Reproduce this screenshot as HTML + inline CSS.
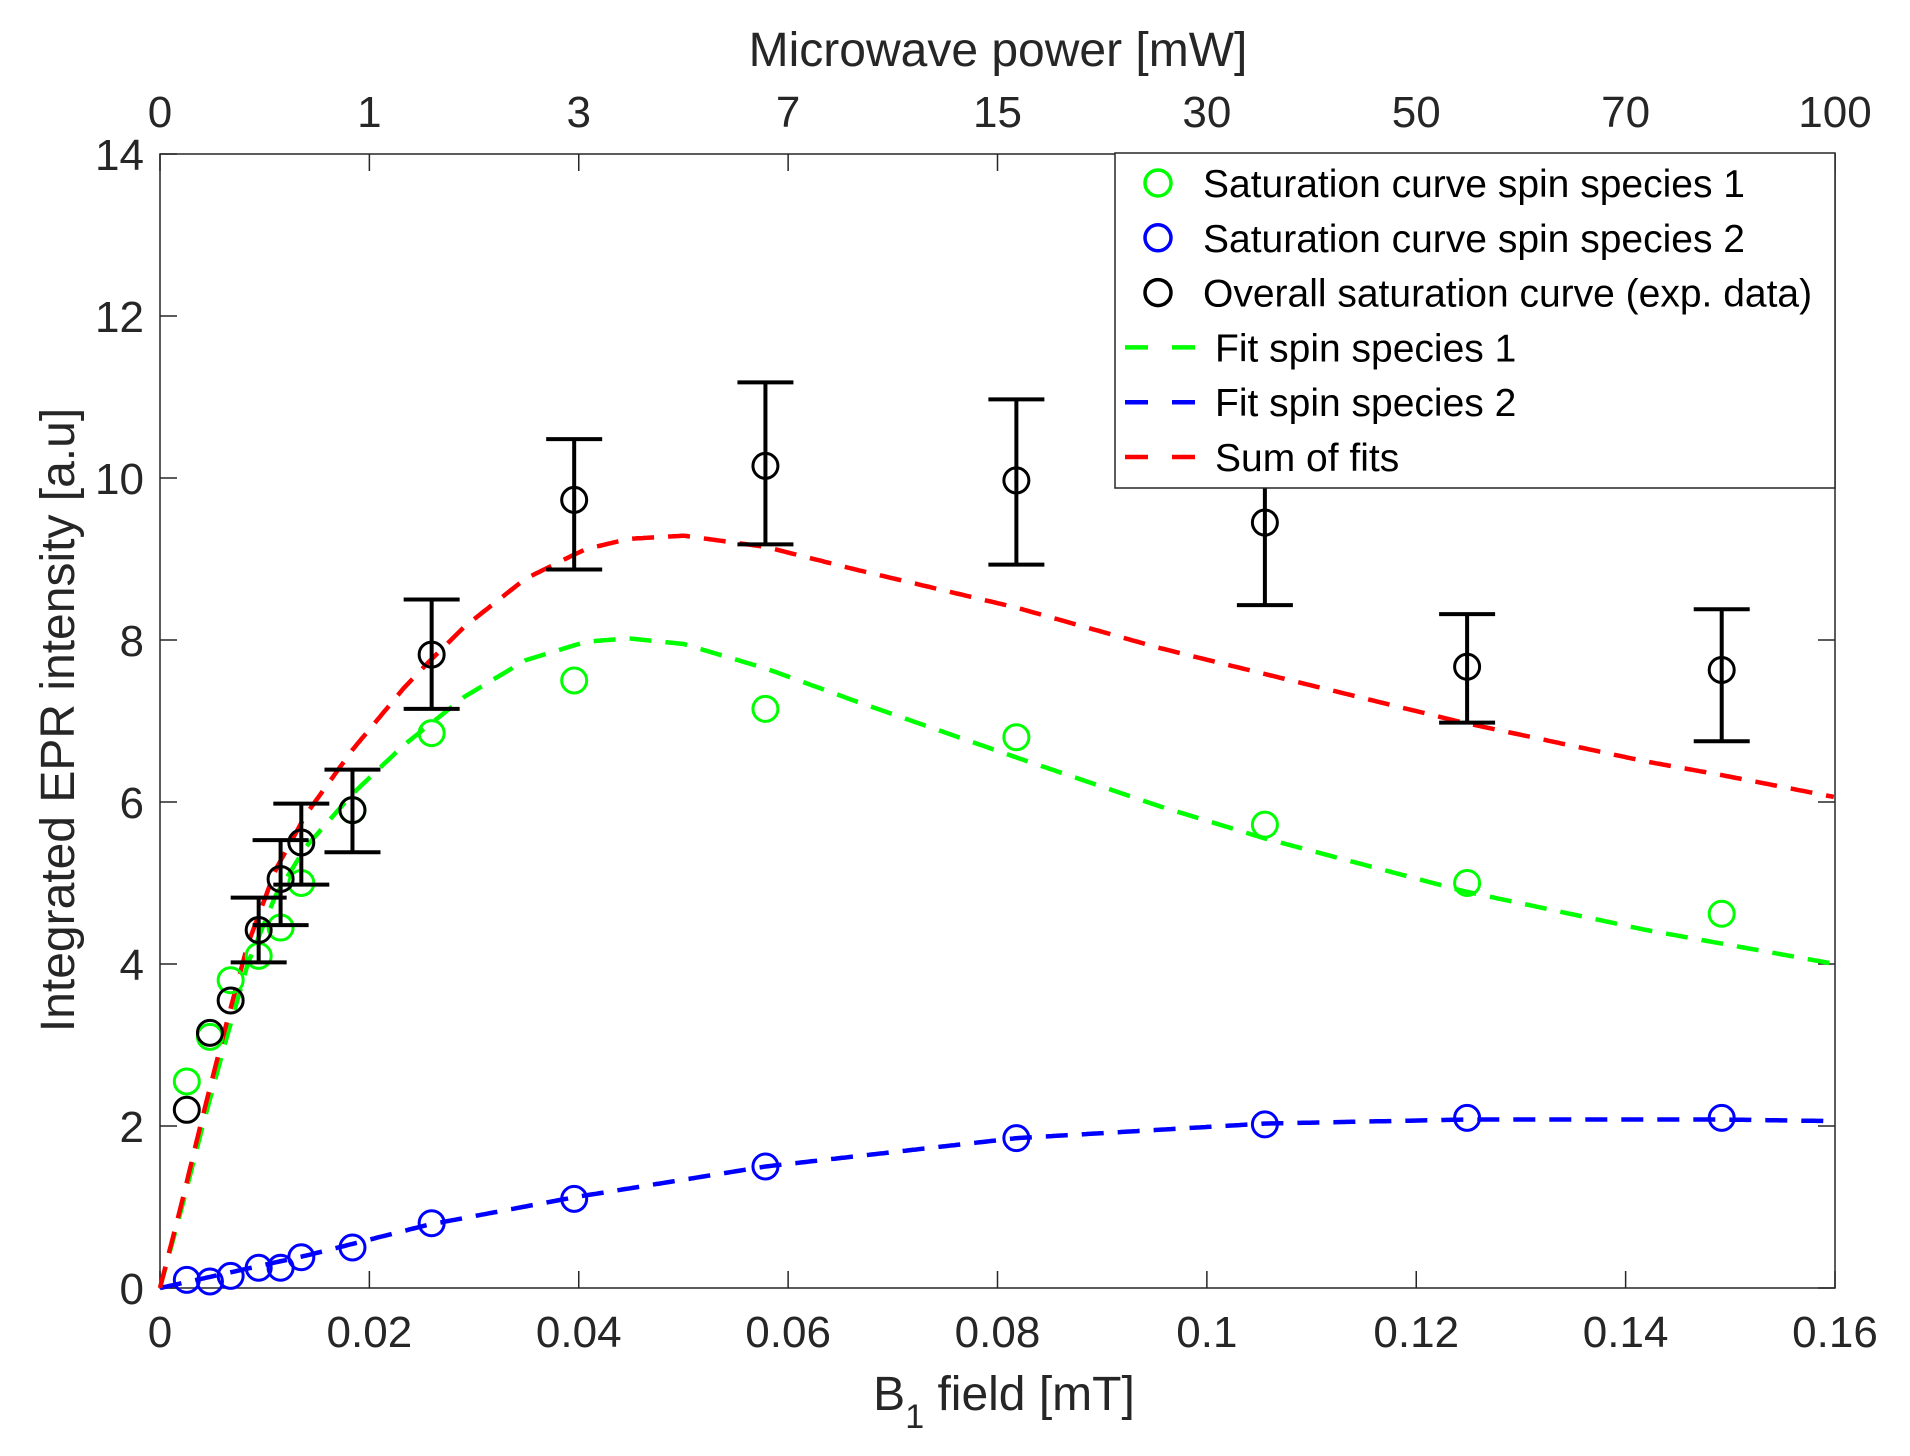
<!DOCTYPE html>
<html><head><meta charset="utf-8"><style>
html,body{margin:0;padding:0;background:#fff;width:1910px;height:1456px;overflow:hidden}
svg text{font-family:"Liberation Sans",Arial,sans-serif;fill:#262626}
</style></head><body>
<svg id="s" width="1910" height="1456" xmlns="http://www.w3.org/2000/svg"></svg>
<script>
(function(){
const s=document.getElementById('s');
const NS='http://www.w3.org/2000/svg';
function el(t,a,txt,parent){const e=document.createElementNS(NS,t);for(const k in a)e.setAttribute(k,a[k]);if(txt!==undefined)e.textContent=txt;(parent||s).appendChild(e);return e;}
const L=160,R=1835,T=154,B=1288;
const X=xd=>L+(xd-130)*(R-L)/1375;
const Y=v=>B-v*(B-T)/14;
el('rect',{x:L,y:T,width:R-L,height:B-T,fill:'none',stroke:'#262626','stroke-width':1.5});
const topL=['0','1','3','7','15','30','50','70','100'];
const botL=['0','0.02','0.04','0.06','0.08','0.1','0.12','0.14','0.16'];
for(let i=0;i<=8;i++){const x=L+i*(R-L)/8;
 el('line',{x1:x,y1:B,x2:x,y2:B-17,stroke:'#262626','stroke-width':1.5});
 el('line',{x1:x,y1:T,x2:x,y2:T+17,stroke:'#262626','stroke-width':1.5});
 el('text',{x:x,y:1347,'font-size':44,'text-anchor':'middle'},botL[i]);
 el('text',{x:x,y:127,'font-size':44,'text-anchor':'middle'},topL[i]);
}
for(let v=0;v<=14;v+=2){const y=Y(v);
 el('line',{x1:L,y1:y,x2:L+17,y2:y,stroke:'#262626','stroke-width':1.5});
 el('line',{x1:R,y1:y,x2:R-17,y2:y,stroke:'#262626','stroke-width':1.5});
 el('text',{x:144,y:y+16,'font-size':44,'text-anchor':'end'},String(v));
}
el('text',{x:998,y:66,'font-size':48,'text-anchor':'middle'},'Microwave power [mW]');
const t=el('text',{x:1004,y:1410,'font-size':48,'text-anchor':'middle'});
el('tspan',{},'B',t);el('tspan',{dy:18,'font-size':34},'1',t);el('tspan',{dy:-18},' field [mT]',t);
el('text',{x:0,y:0,'font-size':48,'text-anchor':'middle',transform:'translate(74,720) rotate(-90)'},'Integrated EPR intensity [a.u]');
const gf=[[130,0],[148,1],[165,2],[183,3],[202,4],[225,4.85],[250,5.45],[288,6.1],[330,6.7],[380,7.3],[430,7.75],[480,7.98],[515,8.02],[560,7.95],[627,7.65],[700,7.25],[833,6.55],[950,5.95],[1037,5.55],[1200,4.9],[1350,4.42],[1505,4.0]];
const bf=[[130,0],[250,0.4],[350,0.78],[470,1.12],[627,1.5],[833,1.85],[1037,2.03],[1203,2.08],[1412,2.08],[1505,2.06]];
function interp(a,x){for(let i=0;i<a.length-1;i++){if(x<=a[i+1][0]){const f=(x-a[i][0])/(a[i+1][0]-a[i][0]);return a[i][1]+f*(a[i+1][1]-a[i][1]);}}return a[a.length-1][1];}
function path(fn){let d='';for(let xd=130;xd<=1505;xd+=2){d+=(xd==130?'M':'L')+X(xd).toFixed(1)+','+Y(fn(xd)).toFixed(1);}return d;}
function dash(d,c){return {d:d,stroke:c,'stroke-dasharray':'22 14','stroke-width':4.5,fill:'none'};}
el('path',dash(path(x=>interp(gf,x)),'#00ff00'));
el('path',dash(path(x=>interp(bf,x)),'#0000ff'));
el('path',dash(path(x=>interp(gf,x)+interp(bf,x)),'#ff0000'));
const xs=[152,171,188,211,229,246,288,353,470,627,833,1037,1203,1412];
const g=[2.55,3.1,3.8,4.1,4.45,5.0,5.9,6.85,7.5,7.15,6.8,5.72,5.0,4.62];
const b=[0.1,0.08,0.15,0.25,0.25,0.38,0.5,0.8,1.1,1.5,1.85,2.02,2.1,2.1];
const k=[2.2,3.15,3.55,4.42,5.05,5.5,5.9,7.82,9.73,10.15,9.97,9.45,7.67,7.63];
const eb={211:[4.02,4.82],229:[4.48,5.53],246:[4.98,5.98],288:[5.38,6.4],353:[7.15,8.5],470:[8.87,10.48],627:[9.18,11.18],833:[8.93,10.97],1037:[8.43,10.47],1203:[6.98,8.32],1412:[6.75,8.38]};
xs.forEach((xd,i)=>{el('circle',{cx:X(xd),cy:Y(g[i]),r:12.5,fill:'none',stroke:'#00ff00','stroke-width':3});});
xs.forEach((xd,i)=>{el('circle',{cx:X(xd),cy:Y(b[i]),r:12.5,fill:'none',stroke:'#0000ff','stroke-width':3});});
xs.forEach((xd,i)=>{const x=X(xd);el('circle',{cx:x,cy:Y(k[i]),r:12.5,fill:'none',stroke:'#000','stroke-width':3});
 const e=eb[xd];if(e){const y1=Y(e[0]),y2=Y(e[1]);
  el('line',{x1:x,y1:y1,x2:x,y2:y2,stroke:'#000','stroke-width':4});
  el('line',{x1:x-28,y1:y1,x2:x+28,y2:y1,stroke:'#000','stroke-width':4});
  el('line',{x1:x-28,y1:y2,x2:x+28,y2:y2,stroke:'#000','stroke-width':4});}
});
el('rect',{x:1115,y:153,width:R-1115,height:335,fill:'#fff',stroke:'#262626','stroke-width':1.5});
const rows=[['c','#00ff00','Saturation curve spin species 1'],['c','#0000ff','Saturation curve spin species 2'],['c','#000','Overall saturation curve (exp. data)'],['l','#00ff00','Fit spin species 1'],['l','#0000ff','Fit spin species 2'],['l','#ff0000','Sum of fits']];
rows.forEach((r,i)=>{const y=183+i*54.8;
 if(r[0]=='c'){el('circle',{cx:1158,cy:y,r:13,fill:'none',stroke:r[1],'stroke-width':3.5});
  el('text',{x:1203,y:y+14,'font-size':39,style:'fill:#000'},r[2]);}
 else{el('line',{x1:1125,y1:y,x2:1148,y2:y,stroke:r[1],'stroke-width':4.5});
  el('line',{x1:1172,y1:y,x2:1195,y2:y,stroke:r[1],'stroke-width':4.5});
  el('text',{x:1215,y:y+14,'font-size':39,style:'fill:#000'},r[2]);}
});
})();
</script>
</body></html>
